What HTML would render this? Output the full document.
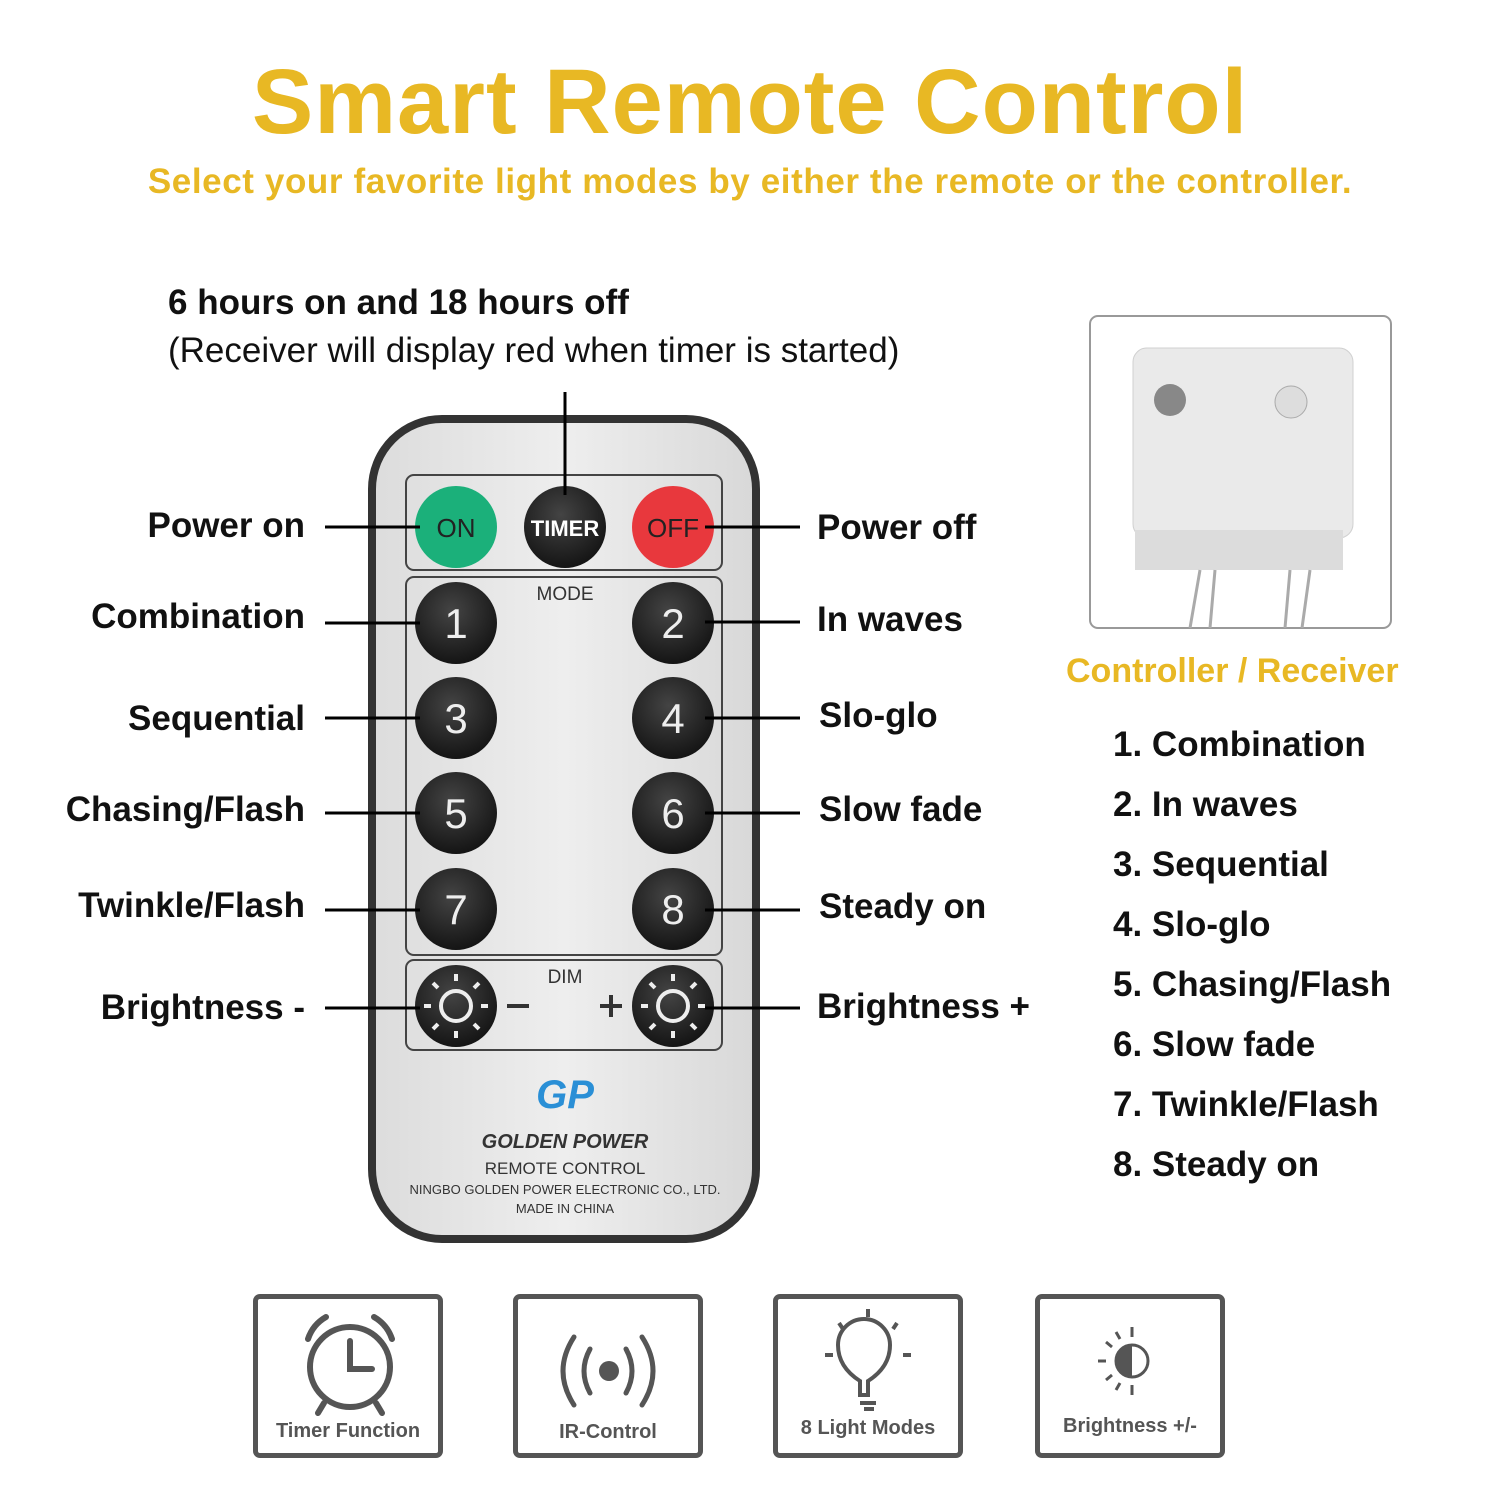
<!DOCTYPE html>
<html><head><meta charset="utf-8"><style>
body{margin:0;width:1500px;height:1500px;background:#fff;position:relative;overflow:hidden;font-family:"Liberation Sans","DejaVu Sans",sans-serif}
.t{position:absolute;white-space:nowrap;color:#111;font-size:35px;font-weight:bold;line-height:1}
.l{text-align:right}
.g{color:#e8b824}
.box{position:absolute;width:180px;height:154px;border:5px solid #555;border-radius:7px;top:1294px}
.bl{position:absolute;left:0;right:0;top:118px;text-align:center;font-size:20px;font-weight:bold;color:#555}
</style></head><body>
<div class="t g" style="left:0;width:1500px;text-align:center;top:56px;font-size:92px;letter-spacing:1px">Smart Remote Control</div>
<div class="t g" style="left:0;width:1500px;text-align:center;top:164px;font-size:35px;letter-spacing:0.6px">Select your favorite light modes by either the remote or the controller.</div>
<div class="t" style="left:168px;top:285px;font-weight:bold">6 hours on and 18 hours off</div>
<div class="t" style="left:168px;top:333px;font-weight:normal">(Receiver will display red when timer is started)</div>

<svg width="1500" height="1500" style="position:absolute;left:0;top:0">
<defs><radialGradient id="bk" cx="45%" cy="35%" r="70%"><stop offset="0" stop-color="#444"/><stop offset="1" stop-color="#111"/></radialGradient>
<linearGradient id="bd" x1="0" x2="1"><stop offset="0" stop-color="#dcdcdc"/><stop offset=".5" stop-color="#eeeeee"/><stop offset="1" stop-color="#d8d8d8"/></linearGradient></defs>
<rect x="372" y="419" width="384" height="820" rx="70" fill="url(#bd)" stroke="#333" stroke-width="8"/>
<g fill="none" stroke="#444" stroke-width="2">
<rect x="406" y="475" width="316" height="95" rx="8"/>
<rect x="406" y="577" width="316" height="378" rx="8"/>
<rect x="406" y="960" width="316" height="90" rx="8"/>
</g>
<circle cx="456" cy="527" r="41" fill="#1bb07a"/>
<circle cx="565" cy="527" r="41" fill="url(#bk)"/>
<circle cx="673" cy="527" r="41" fill="#e8383d"/>
<g font-family="Liberation Sans" font-size="26" text-anchor="middle">
<text x="456" y="537" fill="#222">ON</text>
<text x="565" y="536" fill="#fff" font-weight="bold" font-size="22">TIMER</text>
<text x="673" y="537" fill="#222">OFF</text>
<text x="565" y="600" font-size="19" fill="#333">MODE</text>
<text x="565" y="983" font-size="19" fill="#333">DIM</text>
</g>
<g font-family="Liberation Sans" font-size="42" fill="#eee" text-anchor="middle">
<circle cx="456" cy="623" r="41" fill="url(#bk)"/><text x="456" y="638">1</text>
<circle cx="673" cy="623" r="41" fill="url(#bk)"/><text x="673" y="638">2</text>
<circle cx="456" cy="718" r="41" fill="url(#bk)"/><text x="456" y="733">3</text>
<circle cx="673" cy="718" r="41" fill="url(#bk)"/><text x="673" y="733">4</text>
<circle cx="456" cy="813" r="41" fill="url(#bk)"/><text x="456" y="828">5</text>
<circle cx="673" cy="813" r="41" fill="url(#bk)"/><text x="673" y="828">6</text>
<circle cx="456" cy="909" r="41" fill="url(#bk)"/><text x="456" y="924">7</text>
<circle cx="673" cy="909" r="41" fill="url(#bk)"/><text x="673" y="924">8</text>
<circle cx="456" cy="1006" r="41" fill="url(#bk)"/>
<circle cx="673" cy="1006" r="41" fill="url(#bk)"/>
</g>
<g stroke="#eee" stroke-width="4" fill="none">
<circle cx="456" cy="1006" r="15"/><circle cx="673" cy="1006" r="15"/>
<path d="M456 981v-7M456 1031v7M431 1006h-7M481 1006h7M438 988l-5-5M474 1024l5 5M474 988l5-5M438 1024l-5 5"/>
<path d="M673 981v-7M673 1031v7M648 1006h-7M698 1006h7M655 988l-5-5M691 1024l5 5M691 988l5-5M655 1024l-5 5"/>
</g>
<g stroke="#333" stroke-width="4"><path d="M507 1006h22M600 1006h22M611 995v22"/></g>
<g font-family="Liberation Sans" text-anchor="middle">
<text x="565" y="1108" font-size="40" font-style="italic" font-weight="bold" fill="#2a8fd6">GP</text>
<text x="565" y="1148" font-size="20" font-style="italic" font-weight="bold" fill="#333">GOLDEN POWER</text>
<text x="565" y="1174" font-size="17" fill="#333">REMOTE CONTROL</text>
<text x="565" y="1194" font-size="13" fill="#333">NINGBO GOLDEN POWER ELECTRONIC CO., LTD.</text>
<text x="565" y="1213" font-size="13" fill="#333">MADE IN CHINA</text>
</g>
<g stroke="#000" stroke-width="3">
<path d="M565 392v103"/>
<path d="M325 527h95M325 623h95M325 718h95M325 813h95M325 910h95M325 1008h95"/>
<path d="M705 527h95M705 622h95M705 718h95M705 813h95M705 910h95M705 1008h95"/>
</g>
<rect x="1090" y="316" width="301" height="312" rx="8" fill="#fff" stroke="#999" stroke-width="2"/>
<rect x="1133" y="348" width="220" height="190" rx="14" fill="#eaeaea" stroke="#d0d0d0"/>
<rect x="1135" y="530" width="208" height="40" fill="#dcdcdc"/>
<circle cx="1170" cy="400" r="16" fill="#888"/><circle cx="1291" cy="402" r="16" fill="#ddd" stroke="#aaa"/>
<path d="M1200 570l-10 58M1215 570l-5 58M1290 570l-5 58M1310 570l-8 58" stroke="#aaa" stroke-width="3"/>
</svg>

<div class="t l" style="right:1195px;top:508px">Power on</div>
<div class="t l" style="right:1195px;top:599px">Combination</div>
<div class="t l" style="right:1195px;top:701px">Sequential</div>
<div class="t l" style="right:1195px;top:792px">Chasing/Flash</div>
<div class="t l" style="right:1195px;top:888px">Twinkle/Flash</div>
<div class="t l" style="right:1195px;top:990px">Brightness -</div>
<div class="t" style="left:817px;top:510px">Power off</div>
<div class="t" style="left:817px;top:602px">In waves</div>
<div class="t" style="left:819px;top:698px">Slo-glo</div>
<div class="t" style="left:819px;top:792px">Slow fade</div>
<div class="t" style="left:819px;top:889px">Steady on</div>
<div class="t" style="left:817px;top:989px">Brightness +</div>

<div class="t g" style="left:1066px;top:654px;font-size:34px">Controller / Receiver</div>
<div class="t" style="left:1113px;top:715px;line-height:60px">1. Combination<br>2. In waves<br>3. Sequential<br>4. Slo-glo<br>5. Chasing/Flash<br>6. Slow fade<br>7. Twinkle/Flash<br>8. Steady on</div>

<div class="box" style="left:253px"><svg width="180" height="120" style="position:absolute;left:0;top:0"><g stroke="#555" stroke-width="6" fill="none" stroke-linecap="round"><circle cx="92" cy="68" r="40"/><path d="M92 42v28h22"/><path d="M50 40a40 40 0 0 1 18-22M134 40a40 40 0 0 0-18-22M66 104l-6 10M118 104l6 10"/></g></svg><div class="bl" style="top:121px">Timer Function</div></div>
<div class="box" style="left:513px"><svg width="180" height="120" style="position:absolute;left:0;top:0"><g stroke="#555" stroke-width="5" fill="none" stroke-linecap="round"><path d="M56 38q-22 34 0 68M124 38q22 34 0 68M72 50q-12 22 0 44M108 50q12 22 0 44"/></g><circle cx="91" cy="72" r="10" fill="#555"/></svg><div class="bl" style="top:122px">IR-Control</div></div>
<div class="box" style="left:773px"><svg width="180" height="120" style="position:absolute;left:0;top:0"><g stroke="#555" stroke-width="4" fill="none"><path d="M82 96v-14q-22-14-22-36a26 26 0 0 1 52 0q0 22-22 36v14z"/><path d="M82 104h16M86 110h10M55 56h-8M125 56h8M65 30l-4-6M115 30l4-6M90 18v-8"/></g></svg><div class="bl" style="top:118px">8 Light Modes</div></div>
<div class="box" style="left:1035px"><svg width="180" height="120" style="position:absolute;left:0;top:0"><circle cx="92" cy="62" r="16" fill="none" stroke="#555" stroke-width="3"/><path d="M92 46a16 16 0 0 0 0 32z" fill="#555"/><g stroke="#555" stroke-width="3"><path d="M92 38v-10M92 86v10M66 62h-8M72 48l-6-5M72 76l-6 5M80 40l-4-7M80 84l-4 7"/></g></svg><div class="bl" style="top:116px">Brightness +/-</div></div>
</body></html>
